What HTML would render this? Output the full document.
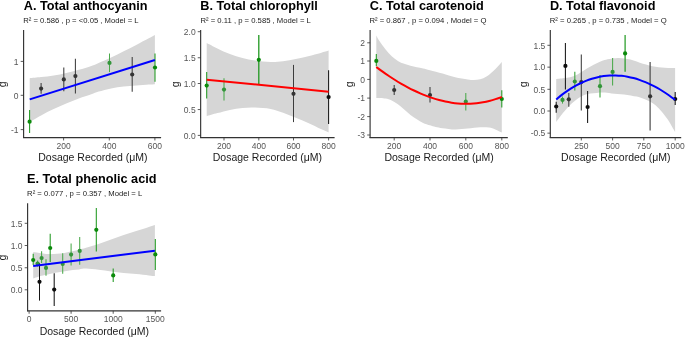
<!DOCTYPE html>
<html><head><meta charset="utf-8"><title>Dose response panels</title>
<style>
html,body{margin:0;padding:0;background:#fff;}
body{width:685px;height:337px;overflow:hidden;}
svg{display:block;font-family:"Liberation Sans", sans-serif;will-change:transform;opacity:0.999;}
</style></head>
<body>
<svg width="685" height="337" viewBox="0 0 685 337">
<rect width="685" height="337" fill="#ffffff"/>
<path d="M29.70,78.30 C31.60,78.10 37.10,77.57 41.10,77.10 C45.10,76.63 49.52,76.20 53.70,75.50 C57.88,74.80 62.02,73.85 66.20,72.90 C70.38,71.95 74.62,70.95 78.80,69.80 C82.98,68.65 88.00,67.15 91.30,66.00 C94.60,64.85 95.30,64.32 98.60,62.90 C101.90,61.48 106.92,59.45 111.10,57.50 C115.28,55.55 119.52,53.30 123.70,51.20 C127.88,49.10 132.02,47.05 136.20,44.90 C140.38,42.75 145.68,39.97 148.80,38.30 C151.92,36.63 153.88,35.47 154.90,34.90 L154.90,84.20 C153.88,84.27 151.92,84.38 148.80,84.60 C145.68,84.82 140.38,85.18 136.20,85.50 C132.02,85.82 127.88,86.02 123.70,86.50 C119.52,86.98 115.28,87.55 111.10,88.40 C106.92,89.25 101.90,90.62 98.60,91.60 C95.30,92.58 94.60,93.17 91.30,94.30 C88.00,95.43 82.98,96.87 78.80,98.40 C74.62,99.93 70.38,101.72 66.20,103.50 C62.02,105.28 57.88,107.12 53.70,109.10 C49.52,111.08 45.10,113.27 41.10,115.40 C37.10,117.53 31.60,120.82 29.70,121.90 Z" fill="#d6d6d6" stroke="none"/>
<line x1="29.6" y1="110.1" x2="29.6" y2="132.9" stroke="#1f981f" stroke-width="1.05"/>
<line x1="41.1" y1="83" x2="41.1" y2="93.7" stroke="#3c3c3c" stroke-width="1.05"/>
<line x1="63.8" y1="67.6" x2="63.8" y2="91.2" stroke="#3c3c3c" stroke-width="1.05"/>
<line x1="75.4" y1="58.8" x2="75.4" y2="93.4" stroke="#3c3c3c" stroke-width="1.05"/>
<line x1="109.5" y1="53.5" x2="109.5" y2="72.1" stroke="#4aa94a" stroke-width="1.05"/>
<line x1="132.2" y1="56.9" x2="132.2" y2="91.8" stroke="#3c3c3c" stroke-width="1.05"/>
<line x1="155" y1="53.5" x2="155" y2="81.7" stroke="#1f981f" stroke-width="1.05"/>
<circle cx="29.6" cy="121.7" r="2.1" fill="#0b8a0b"/>
<circle cx="41.1" cy="88.6" r="2.1" fill="#333333"/>
<circle cx="63.8" cy="79.4" r="2.1" fill="#333333"/>
<circle cx="75.4" cy="76.1" r="2.1" fill="#333333"/>
<circle cx="109.5" cy="62.9" r="2.1" fill="#33953a"/>
<circle cx="132.2" cy="74.5" r="2.1" fill="#333333"/>
<circle cx="155" cy="67.5" r="2.1" fill="#0b8a0b"/>
<path d="M29.70,99.40 L154.90,60.00" fill="none" stroke="#0000ff" stroke-width="2.0"/>
<line x1="23.6" y1="29.9" x2="23.6" y2="138.05" stroke="#333333" stroke-width="1.15"/>
<line x1="23.05" y1="137.55" x2="161.1" y2="137.55" stroke="#333333" stroke-width="1.15"/>
<line x1="20.700000000000003" y1="61.4" x2="23.6" y2="61.4" stroke="#333333" stroke-width="0.8"/>
<text x="18.6" y="64.6" text-anchor="end" font-size="8.5" fill="#555555">1</text>
<line x1="20.700000000000003" y1="95.3" x2="23.6" y2="95.3" stroke="#333333" stroke-width="0.8"/>
<text x="18.6" y="98.5" text-anchor="end" font-size="8.5" fill="#555555">0</text>
<line x1="20.700000000000003" y1="129.6" x2="23.6" y2="129.6" stroke="#333333" stroke-width="0.8"/>
<text x="18.6" y="132.79999999999998" text-anchor="end" font-size="8.5" fill="#555555">-1</text>
<line x1="63.6" y1="137.55" x2="63.6" y2="140.45000000000002" stroke="#333333" stroke-width="0.8"/>
<text x="63.6" y="148.65" text-anchor="middle" font-size="8.5" fill="#555555">200</text>
<line x1="109.3" y1="137.55" x2="109.3" y2="140.45000000000002" stroke="#333333" stroke-width="0.8"/>
<text x="109.3" y="148.65" text-anchor="middle" font-size="8.5" fill="#555555">400</text>
<line x1="154.9" y1="137.55" x2="154.9" y2="140.45000000000002" stroke="#333333" stroke-width="0.8"/>
<text x="154.9" y="148.65" text-anchor="middle" font-size="8.5" fill="#555555">600</text>
<text x="23.8" y="9.85" font-size="12.7" font-weight="bold" fill="#000">A. Total anthocyanin</text>
<text x="23.2" y="23.1" font-size="7.7" fill="#1a1a1a">R² = 0.586 , p = &lt;0.05 , Model = L</text>
<text x="92.9" y="161.0" text-anchor="middle" font-size="10.5" fill="#1a1a1a">Dosage Recorded (μM)</text>
<text transform="translate(6.4,84.3) rotate(-90)" text-anchor="middle" font-size="10.5" fill="#1a1a1a">g</text>
<path d="M206.70,43.10 C208.48,44.00 213.53,46.67 217.40,48.50 C221.27,50.33 225.72,52.50 229.90,54.10 C234.08,55.70 238.30,57.02 242.50,58.10 C246.70,59.18 250.42,59.93 255.10,60.60 C259.78,61.27 265.93,61.98 270.60,62.10 C275.27,62.22 278.92,61.80 283.10,61.30 C287.28,60.80 291.52,59.95 295.70,59.10 C299.88,58.25 304.02,57.23 308.20,56.20 C312.38,55.17 317.40,53.83 320.80,52.90 C324.20,51.97 327.30,50.98 328.60,50.60 L328.60,132.50 C327.30,131.93 324.20,130.67 320.80,129.10 C317.40,127.53 312.38,124.98 308.20,123.10 C304.02,121.22 299.88,119.52 295.70,117.80 C291.52,116.08 287.28,114.27 283.10,112.80 C278.92,111.33 275.27,109.87 270.60,109.00 C265.93,108.13 259.78,107.77 255.10,107.60 C250.42,107.43 246.70,107.62 242.50,108.00 C238.30,108.38 234.08,109.05 229.90,109.90 C225.72,110.75 221.27,112.05 217.40,113.10 C213.53,114.15 208.48,115.68 206.70,116.20 Z" fill="#d6d6d6" stroke="none"/>
<line x1="206.7" y1="72" x2="206.7" y2="98.5" stroke="#1f981f" stroke-width="1.05"/>
<line x1="224" y1="78.3" x2="224" y2="100.4" stroke="#4aa94a" stroke-width="1.05"/>
<line x1="258.8" y1="34.9" x2="258.8" y2="84.2" stroke="#1f981f" stroke-width="1.3"/>
<line x1="293.5" y1="64.9" x2="293.5" y2="122.1" stroke="#3c3c3c" stroke-width="1.05"/>
<line x1="328.6" y1="70.3" x2="328.6" y2="124.1" stroke="#151515" stroke-width="1.05"/>
<circle cx="206.7" cy="85.6" r="2.1" fill="#0b8a0b"/>
<circle cx="224" cy="89.6" r="2.1" fill="#33953a"/>
<circle cx="258.8" cy="59.8" r="2.1" fill="#0b8a0b"/>
<circle cx="293.5" cy="93.8" r="2.1" fill="#333333"/>
<circle cx="328.6" cy="97.1" r="2.1" fill="#0d0d0d"/>
<path d="M206.70,79.70 L328.60,91.70" fill="none" stroke="#ff0000" stroke-width="2.0"/>
<line x1="200.65" y1="29.9" x2="200.65" y2="138.05" stroke="#333333" stroke-width="1.15"/>
<line x1="200.1" y1="137.55" x2="334.6" y2="137.55" stroke="#333333" stroke-width="1.15"/>
<line x1="197.75" y1="31.7" x2="200.65" y2="31.7" stroke="#333333" stroke-width="0.8"/>
<text x="195.65" y="34.9" text-anchor="end" font-size="8.5" fill="#555555">2.0</text>
<line x1="197.75" y1="57.75" x2="200.65" y2="57.75" stroke="#333333" stroke-width="0.8"/>
<text x="195.65" y="60.95" text-anchor="end" font-size="8.5" fill="#555555">1.5</text>
<line x1="197.75" y1="83.5" x2="200.65" y2="83.5" stroke="#333333" stroke-width="0.8"/>
<text x="195.65" y="86.7" text-anchor="end" font-size="8.5" fill="#555555">1.0</text>
<line x1="197.75" y1="109.55" x2="200.65" y2="109.55" stroke="#333333" stroke-width="0.8"/>
<text x="195.65" y="112.75" text-anchor="end" font-size="8.5" fill="#555555">0.5</text>
<line x1="197.75" y1="135.4" x2="200.65" y2="135.4" stroke="#333333" stroke-width="0.8"/>
<text x="195.65" y="138.6" text-anchor="end" font-size="8.5" fill="#555555">0.0</text>
<line x1="224" y1="137.55" x2="224" y2="140.45000000000002" stroke="#333333" stroke-width="0.8"/>
<text x="224" y="148.65" text-anchor="middle" font-size="8.5" fill="#555555">200</text>
<line x1="258.8" y1="137.55" x2="258.8" y2="140.45000000000002" stroke="#333333" stroke-width="0.8"/>
<text x="258.8" y="148.65" text-anchor="middle" font-size="8.5" fill="#555555">400</text>
<line x1="293.5" y1="137.55" x2="293.5" y2="140.45000000000002" stroke="#333333" stroke-width="0.8"/>
<text x="293.5" y="148.65" text-anchor="middle" font-size="8.5" fill="#555555">600</text>
<line x1="328.6" y1="137.55" x2="328.6" y2="140.45000000000002" stroke="#333333" stroke-width="0.8"/>
<text x="328.6" y="148.65" text-anchor="middle" font-size="8.5" fill="#555555">800</text>
<text x="200.3" y="9.85" font-size="12.7" font-weight="bold" fill="#000">B. Total chlorophyll</text>
<text x="200.5" y="23.1" font-size="7.7" fill="#1a1a1a">R² = 0.11 , p = 0.585 , Model = L</text>
<text x="267.4" y="161.0" text-anchor="middle" font-size="10.5" fill="#1a1a1a">Dosage Recorded (μM)</text>
<text transform="translate(179.2,84.3) rotate(-90)" text-anchor="middle" font-size="10.5" fill="#1a1a1a">g</text>
<path d="M376.30,35.50 C376.77,36.35 377.58,38.30 379.10,40.60 C380.62,42.90 383.30,46.70 385.40,49.30 C387.50,51.90 389.62,54.27 391.70,56.20 C393.78,58.13 395.82,59.63 397.90,60.90 C399.98,62.17 402.10,63.00 404.20,63.80 C406.30,64.60 408.40,65.12 410.50,65.70 C412.60,66.28 414.70,66.85 416.80,67.30 C418.90,67.75 420.90,67.92 423.10,68.40 C425.30,68.88 426.75,69.33 430.00,70.20 C433.25,71.07 438.42,72.43 442.60,73.60 C446.78,74.77 450.92,76.23 455.10,77.20 C459.28,78.17 464.57,78.95 467.70,79.40 C470.83,79.85 471.82,79.92 473.90,79.90 C475.98,79.88 478.10,79.87 480.20,79.30 C482.30,78.73 484.40,77.80 486.50,76.50 C488.60,75.20 490.92,73.17 492.80,71.50 C494.68,69.83 496.30,68.07 497.80,66.50 C499.30,64.93 501.13,62.83 501.80,62.10 L501.80,132.60 C500.72,132.08 497.43,130.33 495.30,129.50 C493.17,128.67 491.52,127.97 489.00,127.60 C486.48,127.23 483.75,127.13 480.20,127.30 C476.65,127.47 471.88,128.23 467.70,128.60 C463.52,128.97 459.28,129.57 455.10,129.50 C450.92,129.43 445.85,128.62 442.60,128.20 C439.35,127.78 437.70,127.48 435.60,127.00 C433.50,126.52 432.08,125.98 430.00,125.30 C427.92,124.62 425.30,123.90 423.10,122.90 C420.90,121.90 418.90,120.63 416.80,119.30 C414.70,117.97 412.60,116.52 410.50,114.90 C408.40,113.28 406.30,111.37 404.20,109.60 C402.10,107.83 399.98,105.80 397.90,104.30 C395.82,102.80 393.78,101.55 391.70,100.60 C389.62,99.65 387.97,99.03 385.40,98.60 C382.83,98.17 377.82,98.10 376.30,98.00 Z" fill="#d6d6d6" stroke="none"/>
<line x1="376.3" y1="54.1" x2="376.3" y2="66.3" stroke="#1f981f" stroke-width="1.05"/>
<line x1="394.2" y1="85" x2="394.2" y2="95" stroke="#3c3c3c" stroke-width="1.05"/>
<line x1="430" y1="87.1" x2="430" y2="102.5" stroke="#3c3c3c" stroke-width="1.05"/>
<line x1="465.8" y1="93.1" x2="465.8" y2="110.6" stroke="#4aa94a" stroke-width="1.05"/>
<line x1="501.8" y1="90.2" x2="501.8" y2="107.5" stroke="#1f981f" stroke-width="1.05"/>
<circle cx="376.3" cy="60.9" r="2.1" fill="#0b8a0b"/>
<circle cx="394.2" cy="90" r="2.1" fill="#333333"/>
<circle cx="430" cy="95" r="2.1" fill="#333333"/>
<circle cx="465.8" cy="101.5" r="2.1" fill="#33953a"/>
<circle cx="501.8" cy="99" r="2.1" fill="#0b8a0b"/>
<path d="M376.30,67.04 C377.35,67.81 380.50,70.14 382.60,71.63 C384.70,73.12 386.82,74.56 388.90,75.96 C390.98,77.36 393.02,78.71 395.10,80.02 C397.18,81.33 399.30,82.60 401.40,83.81 C403.50,85.02 405.60,86.19 407.70,87.30 C409.80,88.41 411.92,89.49 414.00,90.50 C416.08,91.51 418.12,92.47 420.20,93.37 C422.28,94.28 424.40,95.13 426.50,95.93 C428.60,96.73 430.70,97.47 432.80,98.15 C434.90,98.83 437.02,99.45 439.10,100.01 C441.18,100.57 443.22,101.08 445.30,101.52 C447.38,101.96 449.50,102.34 451.60,102.65 C453.70,102.96 455.80,103.22 457.90,103.40 C460.00,103.59 462.12,103.71 464.20,103.76 C466.28,103.81 468.32,103.79 470.40,103.70 C472.48,103.61 474.60,103.46 476.70,103.23 C478.80,103.00 480.92,102.70 483.00,102.32 C485.08,101.94 487.12,101.50 489.20,100.97 C491.28,100.44 493.40,99.84 495.50,99.16 C497.60,98.48 500.75,97.27 501.80,96.89" fill="none" stroke="#ff0000" stroke-width="2.0"/>
<line x1="370.1" y1="29.9" x2="370.1" y2="138.05" stroke="#333333" stroke-width="1.15"/>
<line x1="369.55" y1="137.55" x2="507.8" y2="137.55" stroke="#333333" stroke-width="1.15"/>
<line x1="367.20000000000005" y1="42.8" x2="370.1" y2="42.8" stroke="#333333" stroke-width="0.8"/>
<text x="365.1" y="46.0" text-anchor="end" font-size="8.5" fill="#555555">2</text>
<line x1="367.20000000000005" y1="61" x2="370.1" y2="61" stroke="#333333" stroke-width="0.8"/>
<text x="365.1" y="64.2" text-anchor="end" font-size="8.5" fill="#555555">1</text>
<line x1="367.20000000000005" y1="79.4" x2="370.1" y2="79.4" stroke="#333333" stroke-width="0.8"/>
<text x="365.1" y="82.60000000000001" text-anchor="end" font-size="8.5" fill="#555555">0</text>
<line x1="367.20000000000005" y1="98.1" x2="370.1" y2="98.1" stroke="#333333" stroke-width="0.8"/>
<text x="365.1" y="101.3" text-anchor="end" font-size="8.5" fill="#555555">-1</text>
<line x1="367.20000000000005" y1="116.6" x2="370.1" y2="116.6" stroke="#333333" stroke-width="0.8"/>
<text x="365.1" y="119.8" text-anchor="end" font-size="8.5" fill="#555555">-2</text>
<line x1="367.20000000000005" y1="135" x2="370.1" y2="135" stroke="#333333" stroke-width="0.8"/>
<text x="365.1" y="138.2" text-anchor="end" font-size="8.5" fill="#555555">-3</text>
<line x1="394.2" y1="137.55" x2="394.2" y2="140.45000000000002" stroke="#333333" stroke-width="0.8"/>
<text x="394.2" y="148.65" text-anchor="middle" font-size="8.5" fill="#555555">200</text>
<line x1="430" y1="137.55" x2="430" y2="140.45000000000002" stroke="#333333" stroke-width="0.8"/>
<text x="430" y="148.65" text-anchor="middle" font-size="8.5" fill="#555555">400</text>
<line x1="465.8" y1="137.55" x2="465.8" y2="140.45000000000002" stroke="#333333" stroke-width="0.8"/>
<text x="465.8" y="148.65" text-anchor="middle" font-size="8.5" fill="#555555">600</text>
<line x1="501.8" y1="137.55" x2="501.8" y2="140.45000000000002" stroke="#333333" stroke-width="0.8"/>
<text x="501.8" y="148.65" text-anchor="middle" font-size="8.5" fill="#555555">800</text>
<text x="369.8" y="9.85" font-size="12.7" font-weight="bold" fill="#000">C. Total carotenoid</text>
<text x="369.5" y="23.1" font-size="7.7" fill="#1a1a1a">R² = 0.867 , p = 0.094 , Model = Q</text>
<text x="439.1" y="161.0" text-anchor="middle" font-size="10.5" fill="#1a1a1a">Dosage Recorded (μM)</text>
<text transform="translate(353.2,84.3) rotate(-90)" text-anchor="middle" font-size="10.5" fill="#1a1a1a">g</text>
<path d="M556.20,79.10 C557.73,78.93 562.82,78.48 565.40,78.10 C567.98,77.72 569.62,77.43 571.70,76.80 C573.78,76.17 575.82,75.38 577.90,74.30 C579.98,73.22 582.10,71.60 584.20,70.30 C586.30,69.00 588.40,67.67 590.50,66.50 C592.60,65.33 594.72,64.32 596.80,63.30 C598.88,62.28 600.92,61.13 603.00,60.40 C605.08,59.67 606.83,59.32 609.30,58.90 C611.77,58.48 615.33,57.98 617.80,57.90 C620.27,57.82 622.00,58.12 624.10,58.40 C626.20,58.68 628.30,59.07 630.40,59.60 C632.50,60.13 634.62,60.90 636.70,61.60 C638.78,62.30 640.82,63.17 642.90,63.80 C644.98,64.43 647.10,64.92 649.20,65.40 C651.30,65.88 653.40,66.37 655.50,66.70 C657.60,67.03 659.70,67.20 661.80,67.40 C663.90,67.60 665.88,67.82 668.10,67.90 C670.32,67.98 673.93,67.90 675.10,67.90 L675.10,132.10 C674.55,131.12 672.97,128.22 671.80,126.20 C670.63,124.18 669.77,122.40 668.10,120.00 C666.43,117.60 663.90,114.27 661.80,111.80 C659.70,109.33 657.60,106.97 655.50,105.20 C653.40,103.43 651.30,102.30 649.20,101.20 C647.10,100.10 644.98,99.37 642.90,98.60 C640.82,97.83 639.83,97.30 636.70,96.60 C633.57,95.90 628.28,94.93 624.10,94.40 C619.92,93.87 615.12,93.70 611.60,93.40 C608.08,93.10 605.47,92.68 603.00,92.60 C600.53,92.52 598.88,92.75 596.80,92.90 C594.72,93.05 592.60,93.15 590.50,93.50 C588.40,93.85 586.30,94.18 584.20,95.00 C582.10,95.82 579.98,96.97 577.90,98.40 C575.82,99.83 573.58,101.88 571.70,103.60 C569.82,105.32 568.07,107.12 566.60,108.70 C565.13,110.28 564.15,111.53 562.90,113.10 C561.65,114.67 560.22,116.63 559.10,118.10 C557.98,119.57 556.68,121.27 556.20,121.90 Z" fill="#d6d6d6" stroke="none"/>
<line x1="556.2" y1="101.8" x2="556.2" y2="112.8" stroke="#151515" stroke-width="1.05"/>
<line x1="562.5" y1="96.6" x2="562.5" y2="103.6" stroke="#4aa94a" stroke-width="1.05"/>
<line x1="565.4" y1="43.1" x2="565.4" y2="89.4" stroke="#151515" stroke-width="1.05"/>
<line x1="568.8" y1="93.1" x2="568.8" y2="106.8" stroke="#3c3c3c" stroke-width="1.05"/>
<line x1="574.8" y1="71.8" x2="574.8" y2="90.6" stroke="#4aa94a" stroke-width="1.2"/>
<line x1="581.3" y1="54.6" x2="581.3" y2="110.6" stroke="#3c3c3c" stroke-width="1.05"/>
<line x1="587.6" y1="90.9" x2="587.6" y2="122.9" stroke="#151515" stroke-width="1.05"/>
<line x1="600" y1="74.9" x2="600" y2="97.5" stroke="#4aa94a" stroke-width="1.2"/>
<line x1="612.6" y1="58.1" x2="612.6" y2="85.6" stroke="#4aa94a" stroke-width="1.05"/>
<line x1="625.1" y1="34.9" x2="625.1" y2="71.8" stroke="#1f981f" stroke-width="1.2"/>
<line x1="650.1" y1="61.9" x2="650.1" y2="130.4" stroke="#3c3c3c" stroke-width="1.1"/>
<line x1="675.2" y1="92.1" x2="675.2" y2="104.9" stroke="#151515" stroke-width="1.05"/>
<circle cx="556.2" cy="106.5" r="2.1" fill="#0d0d0d"/>
<circle cx="562.5" cy="99.9" r="2.1" fill="#33953a"/>
<circle cx="565.4" cy="65.9" r="2.1" fill="#0d0d0d"/>
<circle cx="568.8" cy="99.3" r="2.1" fill="#333333"/>
<circle cx="574.8" cy="81.5" r="2.1" fill="#33953a"/>
<circle cx="581.3" cy="82.1" r="2.1" fill="#333333"/>
<circle cx="587.6" cy="107" r="2.1" fill="#0d0d0d"/>
<circle cx="600" cy="86.2" r="2.1" fill="#33953a"/>
<circle cx="612.6" cy="71.9" r="2.1" fill="#33953a"/>
<circle cx="625.1" cy="53.4" r="2.1" fill="#0b8a0b"/>
<circle cx="650.1" cy="96.3" r="2.1" fill="#333333"/>
<circle cx="675.2" cy="99" r="2.1" fill="#0d0d0d"/>
<path d="M556.20,99.49 C557.18,98.69 560.12,96.17 562.10,94.66 C564.08,93.14 566.12,91.73 568.10,90.40 C570.08,89.07 572.02,87.84 574.00,86.69 C575.98,85.54 578.02,84.49 580.00,83.52 C581.98,82.55 583.92,81.67 585.90,80.88 C587.88,80.09 589.92,79.39 591.90,78.77 C593.88,78.15 595.82,77.62 597.80,77.18 C599.78,76.74 601.82,76.38 603.80,76.10 C605.78,75.82 607.72,75.63 609.70,75.52 C611.68,75.41 613.72,75.38 615.70,75.43 C617.68,75.48 619.63,75.62 621.60,75.83 C623.57,76.04 625.52,76.33 627.50,76.70 C629.48,77.07 631.52,77.52 633.50,78.05 C635.48,78.58 637.42,79.18 639.40,79.86 C641.38,80.54 643.42,81.29 645.40,82.12 C647.38,82.95 649.32,83.85 651.30,84.82 C653.28,85.79 655.32,86.84 657.30,87.96 C659.28,89.08 661.22,90.27 663.20,91.53 C665.18,92.79 667.22,94.12 669.20,95.52 C671.18,96.92 674.12,99.19 675.10,99.92" fill="none" stroke="#0000ff" stroke-width="2.0"/>
<line x1="550.3" y1="29.9" x2="550.3" y2="138.05" stroke="#333333" stroke-width="1.15"/>
<line x1="549.75" y1="137.55" x2="681.2" y2="137.55" stroke="#333333" stroke-width="1.15"/>
<line x1="547.4" y1="45.3" x2="550.3" y2="45.3" stroke="#333333" stroke-width="0.8"/>
<text x="545.3" y="48.5" text-anchor="end" font-size="8.5" fill="#555555">1.5</text>
<line x1="547.4" y1="67.15" x2="550.3" y2="67.15" stroke="#333333" stroke-width="0.8"/>
<text x="545.3" y="70.35000000000001" text-anchor="end" font-size="8.5" fill="#555555">1.0</text>
<line x1="547.4" y1="89.3" x2="550.3" y2="89.3" stroke="#333333" stroke-width="0.8"/>
<text x="545.3" y="92.5" text-anchor="end" font-size="8.5" fill="#555555">0.5</text>
<line x1="547.4" y1="111" x2="550.3" y2="111" stroke="#333333" stroke-width="0.8"/>
<text x="545.3" y="114.2" text-anchor="end" font-size="8.5" fill="#555555">0.0</text>
<line x1="547.4" y1="133.15" x2="550.3" y2="133.15" stroke="#333333" stroke-width="0.8"/>
<text x="545.3" y="136.35" text-anchor="end" font-size="8.5" fill="#555555">-0.5</text>
<line x1="581.3" y1="137.55" x2="581.3" y2="140.45000000000002" stroke="#333333" stroke-width="0.8"/>
<text x="581.3" y="148.65" text-anchor="middle" font-size="8.5" fill="#555555">250</text>
<line x1="612.6" y1="137.55" x2="612.6" y2="140.45000000000002" stroke="#333333" stroke-width="0.8"/>
<text x="612.6" y="148.65" text-anchor="middle" font-size="8.5" fill="#555555">500</text>
<line x1="643.8" y1="137.55" x2="643.8" y2="140.45000000000002" stroke="#333333" stroke-width="0.8"/>
<text x="643.8" y="148.65" text-anchor="middle" font-size="8.5" fill="#555555">750</text>
<line x1="675.2" y1="137.55" x2="675.2" y2="140.45000000000002" stroke="#333333" stroke-width="0.8"/>
<text x="675.2" y="148.65" text-anchor="middle" font-size="8.5" fill="#555555">1000</text>
<text x="549.9" y="9.85" font-size="12.7" font-weight="bold" fill="#000">D. Total flavonoid</text>
<text x="549.8" y="23.1" font-size="7.7" fill="#1a1a1a">R² = 0.265 , p = 0.735 , Model = Q</text>
<text x="615.75" y="161.0" text-anchor="middle" font-size="10.5" fill="#1a1a1a">Dosage Recorded (μM)</text>
<text transform="translate(526.5,84.3) rotate(-90)" text-anchor="middle" font-size="10.5" fill="#1a1a1a">g</text>
<path d="M33.20,252.10 C34.57,252.30 38.98,252.97 41.40,253.30 C43.82,253.63 45.62,253.97 47.70,254.10 C49.78,254.23 51.82,254.18 53.90,254.10 C55.98,254.02 58.10,253.88 60.20,253.60 C62.30,253.32 64.40,252.80 66.50,252.40 C68.60,252.00 70.70,251.65 72.80,251.20 C74.90,250.75 76.90,250.27 79.10,249.70 C81.30,249.13 82.75,248.77 86.00,247.80 C89.25,246.83 94.42,245.28 98.60,243.90 C102.78,242.52 106.92,240.97 111.10,239.50 C115.28,238.03 119.52,236.50 123.70,235.10 C127.88,233.70 132.02,232.47 136.20,231.10 C140.38,229.73 145.68,227.90 148.80,226.90 C151.92,225.90 153.88,225.40 154.90,225.10 L154.90,276.10 C153.88,276.00 151.92,275.83 148.80,275.50 C145.68,275.17 140.38,274.53 136.20,274.10 C132.02,273.67 127.88,273.35 123.70,272.90 C119.52,272.45 115.28,271.93 111.10,271.40 C106.92,270.87 102.78,270.17 98.60,269.70 C94.42,269.23 89.25,268.65 86.00,268.60 C82.75,268.55 81.30,269.15 79.10,269.40 C76.90,269.65 74.90,269.85 72.80,270.10 C70.70,270.35 68.60,270.60 66.50,270.90 C64.40,271.20 62.30,271.57 60.20,271.90 C58.10,272.23 55.98,272.48 53.90,272.90 C51.82,273.32 49.78,273.93 47.70,274.40 C45.62,274.87 43.82,275.03 41.40,275.70 C38.98,276.37 34.57,277.95 33.20,278.40 Z" fill="#d6d6d6" stroke="none"/>
<line x1="33.2" y1="253.7" x2="33.2" y2="265" stroke="#1f981f" stroke-width="1.05"/>
<line x1="37.6" y1="260.6" x2="37.6" y2="266.6" stroke="#4aa94a" stroke-width="1.05"/>
<line x1="39.5" y1="263.1" x2="39.5" y2="300.6" stroke="#151515" stroke-width="1.05"/>
<line x1="41.6" y1="251.2" x2="41.6" y2="263.1" stroke="#4aa94a" stroke-width="1.05"/>
<line x1="46" y1="259.3" x2="46" y2="275.7" stroke="#4aa94a" stroke-width="1.05"/>
<line x1="50.2" y1="233.8" x2="50.2" y2="261.9" stroke="#1f981f" stroke-width="1.05"/>
<line x1="54.2" y1="273.2" x2="54.2" y2="305.9" stroke="#151515" stroke-width="1.05"/>
<line x1="62.7" y1="253.3" x2="62.7" y2="273.8" stroke="#4aa94a" stroke-width="1.05"/>
<line x1="71.1" y1="243.4" x2="71.1" y2="265.6" stroke="#4aa94a" stroke-width="1.05"/>
<line x1="79.7" y1="236.9" x2="79.7" y2="264.7" stroke="#4aa94a" stroke-width="1.05"/>
<line x1="96.3" y1="208.0" x2="96.3" y2="251.5" stroke="#1f981f" stroke-width="1.05"/>
<line x1="113.2" y1="268.6" x2="113.2" y2="282" stroke="#1f981f" stroke-width="1.05"/>
<line x1="155.3" y1="238.9" x2="155.3" y2="269.9" stroke="#1f981f" stroke-width="1.05"/>
<circle cx="33.2" cy="260" r="2.1" fill="#0b8a0b"/>
<circle cx="37.6" cy="263.5" r="2.1" fill="#33953a"/>
<circle cx="39.5" cy="281.8" r="2.1" fill="#0d0d0d"/>
<circle cx="41.6" cy="258.1" r="2.1" fill="#33953a"/>
<circle cx="46" cy="267.9" r="2.1" fill="#33953a"/>
<circle cx="50.2" cy="248" r="2.1" fill="#0b8a0b"/>
<circle cx="54.2" cy="289.6" r="2.1" fill="#0d0d0d"/>
<circle cx="62.7" cy="264" r="2.1" fill="#33953a"/>
<circle cx="71.1" cy="254.6" r="2.1" fill="#33953a"/>
<circle cx="79.7" cy="250.9" r="2.1" fill="#33953a"/>
<circle cx="96.3" cy="229.8" r="2.1" fill="#0b8a0b"/>
<circle cx="113.2" cy="275.4" r="2.1" fill="#0b8a0b"/>
<circle cx="155.3" cy="254.4" r="2.1" fill="#0b8a0b"/>
<path d="M33.20,265.90 L154.90,250.70" fill="none" stroke="#0000ff" stroke-width="2.0"/>
<line x1="27.6" y1="203.15" x2="27.6" y2="311.35" stroke="#333333" stroke-width="1.15"/>
<line x1="27.05" y1="310.85" x2="161.1" y2="310.85" stroke="#333333" stroke-width="1.15"/>
<line x1="24.700000000000003" y1="223.3" x2="27.6" y2="223.3" stroke="#333333" stroke-width="0.8"/>
<text x="22.6" y="226.5" text-anchor="end" font-size="8.5" fill="#555555">1.5</text>
<line x1="24.700000000000003" y1="245.5" x2="27.6" y2="245.5" stroke="#333333" stroke-width="0.8"/>
<text x="22.6" y="248.7" text-anchor="end" font-size="8.5" fill="#555555">1.0</text>
<line x1="24.700000000000003" y1="267.75" x2="27.6" y2="267.75" stroke="#333333" stroke-width="0.8"/>
<text x="22.6" y="270.95" text-anchor="end" font-size="8.5" fill="#555555">0.5</text>
<line x1="24.700000000000003" y1="289.8" x2="27.6" y2="289.8" stroke="#333333" stroke-width="0.8"/>
<text x="22.6" y="293.0" text-anchor="end" font-size="8.5" fill="#555555">0.0</text>
<line x1="29.1" y1="310.85" x2="29.1" y2="313.75" stroke="#333333" stroke-width="0.8"/>
<text x="29.1" y="321.95000000000005" text-anchor="middle" font-size="8.5" fill="#555555">0</text>
<line x1="71.1" y1="310.85" x2="71.1" y2="313.75" stroke="#333333" stroke-width="0.8"/>
<text x="71.1" y="321.95000000000005" text-anchor="middle" font-size="8.5" fill="#555555">500</text>
<line x1="113.2" y1="310.85" x2="113.2" y2="313.75" stroke="#333333" stroke-width="0.8"/>
<text x="113.2" y="321.95000000000005" text-anchor="middle" font-size="8.5" fill="#555555">1000</text>
<line x1="155.3" y1="310.85" x2="155.3" y2="313.75" stroke="#333333" stroke-width="0.8"/>
<text x="155.3" y="321.95000000000005" text-anchor="middle" font-size="8.5" fill="#555555">1500</text>
<text x="27.0" y="183.1" font-size="12.7" font-weight="bold" fill="#000">E. Total phenolic acid</text>
<text x="27.1" y="196.3" font-size="7.7" fill="#1a1a1a">R² = 0.077 , p = 0.357 , Model = L</text>
<text x="94.3" y="334.5" text-anchor="middle" font-size="10.5" fill="#1a1a1a">Dosage Recorded (μM)</text>
<text transform="translate(6.4,257.5) rotate(-90)" text-anchor="middle" font-size="10.5" fill="#1a1a1a">g</text>
</svg>
</body></html>
